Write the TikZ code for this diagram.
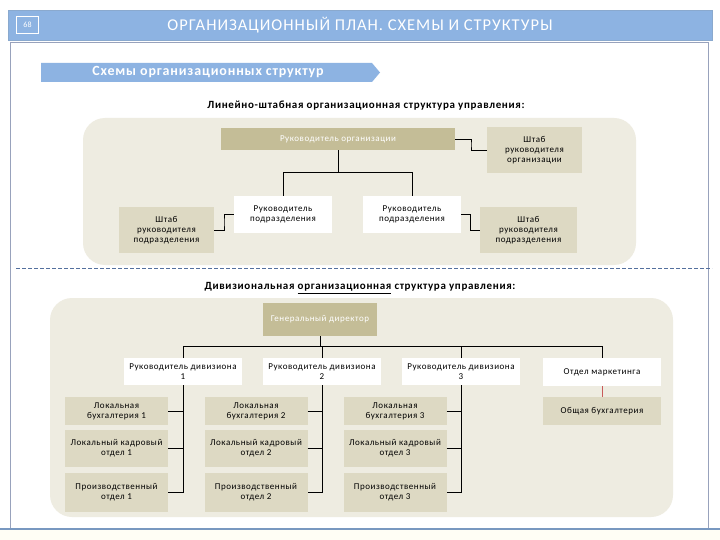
\documentclass[tikz,border=0pt]{standalone}
\usepackage{fontspec}
\setmainfont{Carlito}
\newfontfamily\spaced[LetterSpace=6]{Carlito}
\usetikzlibrary{calc}
\definecolor{headblue}{RGB}{141,179,226}
\definecolor{panelfill}{RGB}{238,236,225}
\definecolor{chieffill}{RGB}{196,189,151}
\definecolor{stafffill}{RGB}{221,217,195}
\definecolor{framegray}{RGB}{152,162,188}
\definecolor{dashblue}{RGB}{84,112,158}
\definecolor{linkred}{RGB}{200,90,90}

\begin{document}
\begin{tikzpicture}[x=1pt, y=-1pt,
      unit/.style={inner sep=1pt, align=center, font=\spaced\fontsize{9}{10}\selectfont},
      chief/.style={unit, fill=chieffill, text=white},
      staff/.style={unit, fill=stafffill},
      head/.style={unit, fill=white},
      panel/.style={fill=panelfill, rounded corners=22pt},
      link/.style={draw=black, line width=0.8pt},
      caption/.style={font=\spaced\bfseries\fontsize{11}{13}\selectfont}
    ]
    \useasboundingbox[fill=white] (0,0) rectangle (720,540);
    % slide frame
    \fill[yellow!4] (0,530) rectangle (720,540);
    \draw[framegray, line width=1pt] (10,529) -- (10,43) -- (708,43) -- (708,529);
    \draw[headblue!85!black, line width=1.5pt] (0,529) -- (720,529);
    \node[fill=headblue, draw=headblue!80!gray, minimum width=704, minimum height=30,
          inner sep=0, text=white, font=\spaced\fontsize{16.5}{18}\selectfont] (title) at (360,25)
      {ОРГАНИЗАЦИОННЫЙ ПЛАН. СХЕМЫ И СТРУКТУРЫ};
    \node[draw=white, line width=1.2pt, minimum width=22, minimum height=17, inner sep=0,
          text=white, font=\fontsize{8}{8}\selectfont] (page) at (27.5,25) {68};
    \fill[headblue] (41,63) -- (372,63) -- (380,72.5) -- (372,82) -- (41,82) -- cycle;
    \node[text=white, font=\spaced\bfseries\fontsize{14}{16}\selectfont] (banner) at (208,72.5)
      {Схемы организационных структур};

    % line-staff structure
    \node[caption] (cap1) at (366,106) {Линейно-штабная организационная структура управления:};
    \fill[panel] (83,118) rectangle (636,265);
    \node[chief, minimum width=234, minimum height=22] (ro) at (338,139)
      {Руководитель организации};
    \node[staff, minimum width=95, minimum height=46] (sro) at (534.5,150)
      {Штаб\\руководителя\\организации};
    \node[head, minimum width=98, minimum height=37] (rp1) at (283,214.5)
      {Руководитель\\подразделения};
    \node[head, minimum width=98, minimum height=37] (rp2) at (412,214.5)
      {Руководитель\\подразделения};
    \node[staff, minimum width=95, minimum height=46] (sp1) at (166.5,230)
      {Штаб\\руководителя\\подразделения};
    \node[staff, minimum width=97, minimum height=46] (sp2) at (528.5,230)
      {Штаб\\руководителя\\подразделения};
    \draw[link] (ro.south) -- ++(0,22) coordinate (fork);
    \draw[link] (rp1.north) |- (fork) -| (rp2.north);
    \foreach \a/\b in {ro.east/sro.west, rp1.west/sp1.east, rp2.east/sp2.west}
      \draw[link] (\a) -| ($(\a)!0.5!(\b)$) |- (\b);

    \draw[dashblue, line width=0.8pt, dash pattern=on 4pt off 2pt] (16,268) -- (712,268);

    % divisional structure
    \node[caption] (cap2) at (360,288)
      {Дивизиональная \underline{организационная} структура управления:};
    \fill[panel] (50,298) rectangle (673,517);
    \node[chief, minimum width=114, minimum height=33] (gd) at (320,319.5)
      {Генеральный директор};
    \draw[link] (gd.south) -- ++(0,10) coordinate (bus);
    \foreach \i/\x/\c in {1/183/116.5, 2/322/256, 3/461/395} {
      \node[head, minimum width=118, minimum height=27, anchor=north] (d\i) at (\x,358)
        {Руководитель дивизиона\\\i};
      \node[staff, minimum width=103, minimum height=28] (acc\i) at (\c,411)
        {Локальная\\бухгалтерия \i};
      \node[staff, minimum width=103, minimum height=37] (hr\i) at (\c,448.5)
        {Локальный кадровый\\отдел \i};
      \node[staff, minimum width=103, minimum height=39] (prod\i) at (\c,492.5)
        {Производственный\\отдел \i};
      \draw[link] (d\i.south) |- (prod\i.east);
      \draw[link] (acc\i.east) -- (acc\i.east -| d\i.south);
      \draw[link] (hr\i.east) -- (hr\i.east -| d\i.south);
    }
    \node[head, minimum width=118, minimum height=28] (mk) at (602,372)
      {Отдел маркетинга};
    \node[staff, minimum width=118, minimum height=28] (ga) at (602,411)
      {Общая бухгалтерия};
    \draw[link] (d1.north) |- (bus) -| (mk.north);
    \foreach \i in {2,3}
      \draw[link] (d\i.north) -- (d\i.north |- bus);
    \draw[linkred, line width=0.6pt] (mk) -- (ga);
  \end{tikzpicture}
\end{document}
